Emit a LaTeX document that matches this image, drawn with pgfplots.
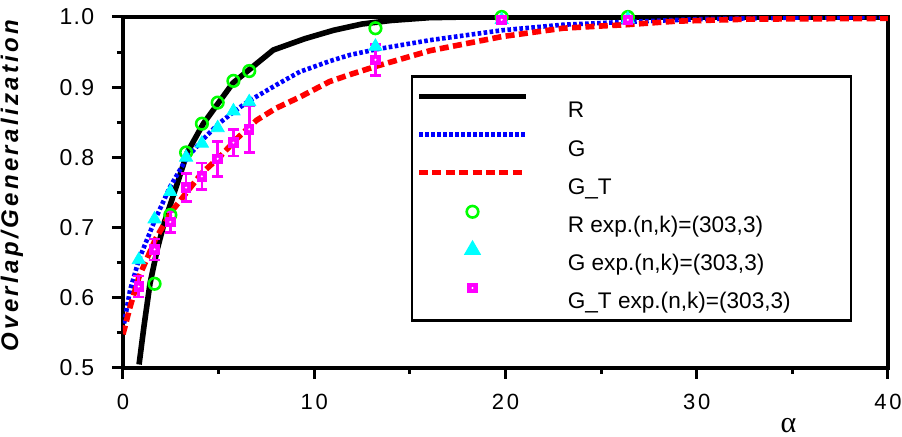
\documentclass[border=0pt]{standalone}
\usepackage{fontspec}
\setmainfont{Liberation Sans}
\newfontfamily\xtickfont[LetterSpace=12]{Liberation Sans}
\newfontfamily\ytickfont[LetterSpace=6]{Liberation Sans}
\newfontfamily\ylabfont[LetterSpace=14]{Liberation Sans}
\newfontfamily\alphafont{Liberation Serif}
\usepackage{pgfplots}
\pgfplotsset{compat=1.18}
\usepackage{pgfplotstable}

\definecolor{cgreen}{RGB}{0,255,0}
\definecolor{ccyan}{RGB}{0,255,255}
\definecolor{cmag}{RGB}{255,0,255}
\definecolor{cblue}{RGB}{0,0,255}
\definecolor{cred}{RGB}{255,0,0}

% filled square with a small white dot in the middle
\pgfdeclareplotmark{sqdot}{%
  \pgfpathrectangle{\pgfpoint{-\pgfplotmarksize}{-\pgfplotmarksize}}{\pgfpoint{2\pgfplotmarksize}{2\pgfplotmarksize}}%
  \pgfusepathqfill
  \begin{pgfscope}
    \pgfsetfillcolor{white}%
    \pgfpathcircle{\pgfpointorigin}{0.22\pgfplotmarksize}%
    \pgfusepathqfill
  \end{pgfscope}%
}

% same-sized legend images for lines and marks
\pgfplotsset{
  lineleg/.style={legend image code/.code={%
    \path[draw=none,fill=none] (0pt,0pt) rectangle (53.5pt,10pt);
    \draw[##1] (0pt,5.5pt) -- (53.5pt,5.5pt);}},
  markleg/.style={legend image code/.code={%
    \path[draw=none,fill=none] (0pt,0pt) rectangle (53.5pt,10pt);
    \draw[mark repeat=2,mark phase=2,##1] plot coordinates {(0pt,5pt) (26.75pt,5pt) (53.5pt,5pt)};}},
}

\pgfplotstableread{
x y
0.84 0.505
1.1 0.56
1.41 0.62
1.8 0.67
2.16 0.707
2.9 0.768
3.36 0.807
4.2 0.848
5.0 0.878
5.75 0.906
6.6 0.925
7.86 0.953
9.5 0.969
11 0.981
12.5 0.99
14 0.995
16 0.999
18 1.0
40 1.0
}\curveR

\pgfplotstableread{
x y
0 0.555
0.37 0.611
0.84 0.655
1.69 0.712
2.46 0.758
3.36 0.800
4.2 0.826
5.0 0.848
5.8 0.865
6.5 0.879
8 0.903
9.25 0.922
10.8 0.937
11.87 0.946
13.26 0.954
16.05 0.967
19.8 0.981
23 0.989
26.3 0.993
30.2 0.997
35 0.999
40 1.0
}\curveG

\pgfplotstableread{
x y
0 0.548
0.37 0.587
0.84 0.63
1.69 0.683
2.51 0.722
3.15 0.744
4.1 0.777
5.07 0.801
6.0 0.828
6.99 0.853
8 0.87
9.25 0.886
10.8 0.908
11.87 0.918
13.26 0.93
16.05 0.952
19.8 0.972
23 0.984
24.9 0.987
26.3 0.989
28.9 0.994
32.8 0.997
40 0.998
}\curveGT

\pgfplotstableread{
x y
1.65 0.620
2.475 0.718
3.3 0.807
4.125 0.848
4.95 0.878
5.775 0.909
6.6 0.923
13.2 0.984
19.8 1.0
26.4 1.0
}\expR

\pgfplotstableread{
x y
0.825 0.654
1.65 0.712
2.475 0.751
3.3 0.800
4.125 0.820
4.95 0.842
5.775 0.866
6.6 0.879
13.2 0.958
19.8 0.996
26.4 0.997
}\expG

\pgfplotstableread{
x y e
0.825 0.616 0.015
1.65 0.669 0.015
2.475 0.708 0.015
3.3 0.757 0.020
4.125 0.773 0.019
4.95 0.798 0.025
5.775 0.821 0.019
6.6 0.840 0.033
13.2 0.939 0.022
19.8 0.996 0.004
26.4 0.996 0.004
}\expGT

\newcommand{\leg}[1]{\hspace*{19.5pt}\makebox[139.5pt][l]{#1}}

\begin{document}
\fontsize{11}{13}\selectfont
\begin{tikzpicture}
\begin{axis}[
    at={(0pt,0pt)}, anchor=south west,
    scale only axis,
    width=382.5pt, height=175.5pt,
    xmin=0, xmax=40, ymin=0.5, ymax=1.0,
    xtick={0,10,20,30,40},
    minor x tick num=1,
    ytick={0.5,0.6,0.7,0.8,0.9,1.0},
    minor y tick num=1,
    /pgf/number format/fixed,
    /pgf/number format/fixed zerofill,
    /pgf/number format/precision=1,
    /pgf/number format/assume math mode=true,
    xticklabel style={font=\xtickfont\fontsize{11}{13}\selectfont, /pgf/number format/precision=0, yshift=-3.5pt},
    yticklabel style={font=\ytickfont\fontsize{11.5}{13}\selectfont, xshift=-5pt},
    tick pos=left,
    tick align=outside,
    major tick length=5.5pt,
    minor tick length=3pt,
    axis line style={line width=1.6pt},
    every tick/.style={line width=1.5pt, black},
    clip=true,
    xlabel={\alphafont α},
    xlabel style={at={(axis description cs:0.87,0)}, yshift=-29pt, anchor=center, inner sep=0pt, font=\fontsize{15}{17}\selectfont},
    ylabel={\ylabfont\bfseries\itshape Overlap/Generalization},
    ylabel style={at={(axis description cs:-0.1451,0.52)}, anchor=center, font=\fontsize{12}{14}\selectfont},
    legend cell align=left,
    legend style={at={(axis cs:15.06,0.917)}, anchor=north west,
        draw=black, line width=1.2pt,
        inner xsep=2pt, inner ysep=5.5pt,
        row sep=3.3pt,
        nodes={inner sep=0pt, text height=11pt, text depth=0.5pt, font=\fontsize{11.3}{13}\selectfont}},
]
\addplot[black, line width=2.8pt, line join=round, lineleg]
    table[x=x,y=y] {\curveR};
\addlegendentry{\leg{R}}
\addplot[cblue, line width=2.3pt, dash pattern=on 1.8pt off 1.2pt, lineleg]
    table[x=x,y=y] {\curveG};
\addlegendentry{\leg{G}}
\addplot[cred, line width=2.8pt, dash pattern=on 4.5pt off 2.2pt, lineleg]
    table[x=x,y=y] {\curveGT};
\addlegendentry{\leg{G\_T}}
\addplot[only marks, mark=o, mark size=2.9pt, mark options={cgreen, line width=1.3pt}, markleg]
    table[x=x,y=y] {\expR};
\addlegendentry{\leg{R exp.(n,k)=(303,3)}}
\addplot[only marks, mark=triangle*, mark size=3.8pt, mark options={ccyan, fill=ccyan, draw=ccyan}, markleg]
    table[x=x,y=y] {\expG};
\addlegendentry{\leg{G exp.(n,k)=(303,3)}}
\addplot[only marks, mark=sqdot, mark size=2.6pt, mark options={fill=cmag}, markleg,
    error bars/.cd, y dir=both, y explicit,
    error bar style={line width=1.3pt, cmag},
    error mark options={rotate=90, mark size=2.8pt, line width=1.3pt, cmag}]
    table[x=x,y=y,y error=e] {\expGT};
\addlegendentry{\leg{G\_T exp.(n,k)=(303,3)}}
\end{axis}
\pgfresetboundingbox
\path (-61.5pt,-34.5pt) rectangle (389.5pt,184pt);
\end{tikzpicture}
\end{document}
